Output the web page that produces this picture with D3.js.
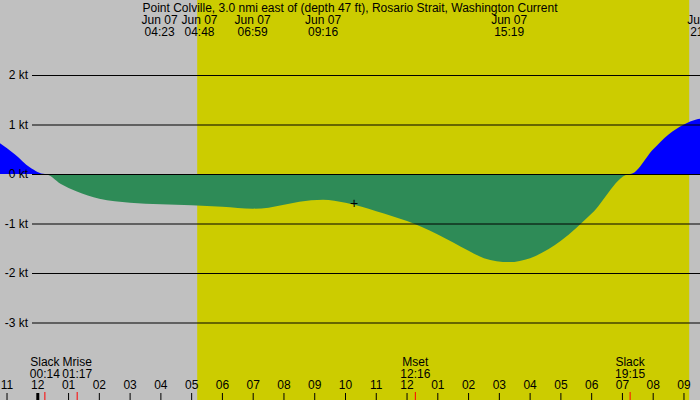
<!DOCTYPE html>
<html>
<head>
<meta charset="UTF-8">
<script src="https://d3js.org/d3.v7.min.js"></script>
<style>
  body { margin: 0; }
  text { font: 12px "Liberation Sans", Arial, sans-serif; fill: #000; }
</style>
</head>
<body>
<div id="chart"></div>
<script>
// hours since midnight Jun 07, current in knots
const hours = [-1.3, -0.75, -0.25, 0.23, 0.75, 1.25, 2, 3, 4, 5, 6, 7, 7.5, 8, 8.5, 9.27, 10, 11, 12, 13, 14, 14.5, 15.32, 16, 17, 18, 19.25, 20, 20.5, 21, 21.4, 21.8];
const knots = [0.65, 0.4, 0.13, 0, -0.2, -0.35, -0.5, -0.58, -0.61, -0.63, -0.66, -0.7, -0.68, -0.62, -0.56, -0.52, -0.58, -0.75, -0.95, -1.22, -1.55, -1.7, -1.78, -1.7, -1.35, -0.8, 0, 0.5, 0.8, 1.0, 1.1, 1.13];
const yTicks = [2, 1, 0, -1, -2, -3];
const hourTicks = d3.range(-1, 22);
const sunrise = 5.18, sunset = 21.17;
const topEvents = [
  { h: 4.38, label: "04:23", dx: -13 },
  { h: 4.8, label: "04:48", dx: 14 },
  { h: 6.98, label: "06:59", dx: 0 },
  { h: 9.27, label: "09:16", dx: 0 },
  { h: 15.32, label: "15:19", dx: 0 },
  { h: 21.17, label: "21:10", dx: 16 }
];
const bottomEvents = [
  { h: 0.23, name: "Slack", label: "00:14", dx: 0 },
  { h: 1.28, name: "Mrise", label: "01:17", dx: 0 },
  { h: 12.27, name: "Mset", label: "12:16", dx: 0 },
  { h: 19.25, name: "Slack", label: "19:15", dx: 0 }
];
const nowMark = { h: 10.28, v: -0.6 };

const width = 700, height = 400;
const x = d3.scaleLinear().domain([0, 1]).range([37.8, 68.57]);
const y = d3.scaleLinear().domain([0, 1]).range([174, 124.5]);

const svg = d3.select("#chart").append("svg")
  .attr("width", width).attr("height", height);

svg.append("rect").attr("width", width).attr("height", height).attr("fill", "#c0c0c0");
svg.append("rect").attr("x", x(sunrise)).attr("y", 0)
  .attr("width", x(sunset) - x(sunrise)).attr("height", height).attr("fill", "#cccc00");

const pts = hours.map((h, i) => [h, knots[i]]);
const curve = d3.curveMonotoneX;
svg.append("path")
  .attr("fill", "blue")
  .attr("d", d3.area().curve(curve).x(d => x(d[0])).y0(y(0)).y1(d => y(Math.max(0, d[1])))(pts));
svg.append("path")
  .attr("fill", "#2e8b57")
  .attr("d", d3.area().curve(curve).x(d => x(d[0])).y0(y(0)).y1(d => y(Math.min(0, d[1])))(pts));

// grid lines
svg.selectAll(".grid").data(yTicks).enter().append("line")
  .attr("x1", 32).attr("x2", width)
  .attr("y1", d => y(d) + 0.5).attr("y2", d => y(d) + 0.5)
  .attr("stroke", "#000").attr("stroke-width", 1);
svg.selectAll(".ylab").data(yTicks).enter().append("text")
  .attr("x", 28).attr("y", d => y(d) + 4).attr("text-anchor", "end")
  .text(d => d + " kt");

// title
svg.append("text").attr("x", 350).attr("y", 12).attr("text-anchor", "middle")
  .text("Point Colville, 3.0 nmi east of (depth 47 ft), Rosario Strait, Washington Current");

const topG = svg.selectAll(".top").data(topEvents).enter().append("g")
  .attr("transform", d => `translate(${x(d.h) + d.dx},0)`);
topG.append("text").attr("y", 24).attr("text-anchor", "middle").text("Jun 07");
topG.append("text").attr("y", 36).attr("text-anchor", "middle").text(d => d.label);

// bottom hour axis
const h12 = d => { const m = ((d % 12) + 12) % 12; return m === 0 ? 12 : m; };
svg.selectAll(".hl").data(hourTicks).enter().append("text")
  .attr("x", d => x(d)).attr("y", 389).attr("text-anchor", "middle")
  .text(d => d3.format("02")(h12(d)));
svg.selectAll(".ht").data(hourTicks).enter().append("line")
  .attr("x1", d => x(d)).attr("x2", d => x(d)).attr("y1", 393).attr("y2", 400)
  .attr("stroke", "#000").attr("stroke-width", d => d === 0 ? 3 : 1);

const botG = svg.selectAll(".bot").data(bottomEvents).enter().append("g")
  .attr("transform", d => `translate(${x(d.h) + d.dx},0)`);
botG.append("text").attr("y", 366).attr("text-anchor", "middle").text(d => d.name);
botG.append("text").attr("y", 378).attr("text-anchor", "middle").text(d => d.label);
botG.append("line").attr("y1", 392).attr("y2", 400).attr("stroke", "red");

// current time marker
svg.append("text").attr("x", x(nowMark.h)).attr("y", y(nowMark.v) + 4)
  .attr("text-anchor", "middle").style("font-size", "14px").text("+");
</script>
</body>
</html>
